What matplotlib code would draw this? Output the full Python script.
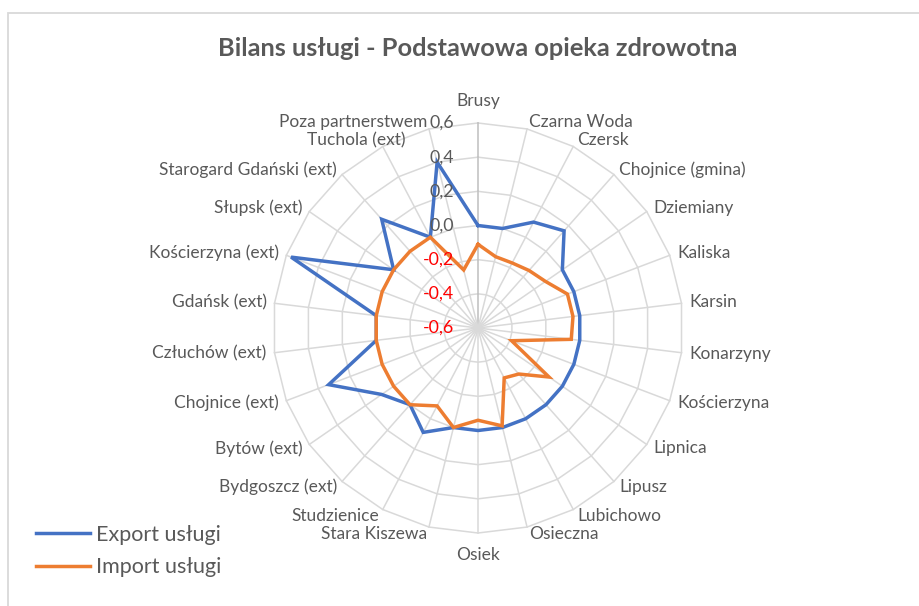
import numpy as np
import matplotlib
matplotlib.use("Agg")
import matplotlib.pyplot as plt
from matplotlib.lines import Line2D
from matplotlib.patches import Rectangle

plt.rcParams['font.family'] = ['Lato', 'DejaVu Sans']

categories = ["Brusy", "Czarna Woda", "Czersk", "Chojnice (gmina)", "Dziemiany",
              "Kaliska", "Karsin", "Konarzyny", "Kościerzyna", "Lipnica", "Lipusz",
              "Lubichowo", "Osieczna", "Osiek", "Stara Kiszewa", "Studzienice",
              "Bydgoszcz (ext)", "Bytów (ext)", "Chojnice (ext)", "Człuchów (ext)",
              "Gdańsk (ext)", "Kościerzyna (ext)", "Słupsk (ext)",
              "Starogard Gdański (ext)", "Tuchola (ext)", "Poza partnerstwem"]

export_vals = [0.0, 0.0, 0.10, 0.16, 0.0, 0.0, 0.0, 0.0, 0.0, 0.0, 0.0, 0.0, 0.0,
               0.0, 0.0, 0.09, 0.0, 0.085, 0.335, 0.0, 0.0, 0.57, 0.0, 0.25, 0.0, 0.40]
import_vals = [-0.11, -0.17, -0.17, -0.15, -0.12, -0.04, -0.04, -0.05, -0.39, -0.095,
               -0.24, -0.27, -0.01, -0.06, 0.0, -0.085, 0.0, 0.0, 0.0, 0.0, 0.0, 0.0,
               0.0, 0.0, 0.0, -0.25]

r_ticks = [-0.6, -0.4, -0.2, 0.0, 0.2, 0.4, 0.6]
r_min, r_max = -0.6, 0.6

series_names = ["Export usługi", "Import usługi"]
colors = ["#4472C4", "#ED7D31"]

W, H = 920, 606
fig = plt.figure(figsize=(W / 100, H / 100), dpi=100)

# chart border (cut on right/bottom as in reference)
fig.patches.append(Rectangle((8.3 / W, -0.1), 2.0, 1 - 12.7 / H + 0.1,
                             transform=fig.transFigure, fill=False,
                             edgecolor="#D9D9D9", lw=1.3))

cx, cy, R = 478, 328, 205
ax = fig.add_axes([(cx - R) / W, (H - cy - R) / H, 2 * R / W, 2 * R / H],
                  projection='polar')
ax.set_theta_zero_location('N')
ax.set_theta_direction(-1)
ax.set_ylim(r_min, r_max)
ax.grid(False)
ax.set_xticks([])
ax.set_yticks([])
ax.spines['polar'].set_visible(False)
ax.patch.set_alpha(0)

n = len(categories)
theta = np.arange(n) * 2 * np.pi / n
theta_c = np.append(theta, theta[0])

grid_col = "#D9D9D9"
for v in r_ticks[1:]:
    ax.plot(theta_c, [v] * (n + 1), color=grid_col, lw=1.1, zorder=1, clip_on=False)
for i, t in enumerate(theta):
    ax.plot([t, t], [r_min, r_max], color="#BFBFBF" if i == 0 else grid_col,
            lw=1.1, zorder=1, clip_on=False)

for vals, col, name in zip([export_vals, import_vals], colors, series_names):
    ax.plot(theta_c, list(vals) + [vals[0]], color=col, lw=2.5, zorder=3,
            solid_joinstyle='miter', clip_on=False, label=name)

# radial tick labels
px = 0.72  # points per pixel
for v in r_ticks:
    lab = f"{v:.1f}".replace(".", ",")
    if lab == "-0,0":
        lab = "0,0"
    ax.annotate(lab, xy=(0, v), xytext=(-24 * px, 0), textcoords='offset points',
                ha='right', va='center', fontsize=12.8,
                color="#FF0000" if v < 0 else "#595959", zorder=5)

# category labels
nudge = {"Tuchola (ext)": (26, 0)}
for t, lab in zip(theta, categories):
    s, c = np.sin(t), np.cos(t)
    if abs(s) < 0.05:
        ha = 'center'
        dx, dy = 0, 22 * np.sign(c)
    else:
        ha = 'left' if s > 0 else 'right'
        dx, dy = 8 * s, 7 * c
    ndx, ndy = nudge.get(lab, (0, 0))
    ax.annotate(lab, xy=(t, r_max), xytext=((dx + ndx) * px, (dy + ndy) * px),
                textcoords='offset points', ha=ha, va='center', fontsize=12.5,
                color="#595959", annotation_clip=False)

fig.text(cx / W, 1 - 48 / H, "Bilans usługi - Podstawowa opieka zdrowotna",
         ha='center', va='center', fontsize=18.3, fontweight='bold', color="#595959")

handles = [Line2D([], [], color=c, lw=2.5) for c in colors]
leg = fig.legend(handles, series_names, loc='center left',
                 bbox_to_anchor=(36 / W, 1 - 551 / H), frameon=False,
                 fontsize=15.5, handlelength=2.5, handletextpad=0.28,
                 labelspacing=0.6, borderpad=0, borderaxespad=0)
for txt in leg.get_texts():
    txt.set_color("#595959")

fig.savefig("out.png", dpi=100)
